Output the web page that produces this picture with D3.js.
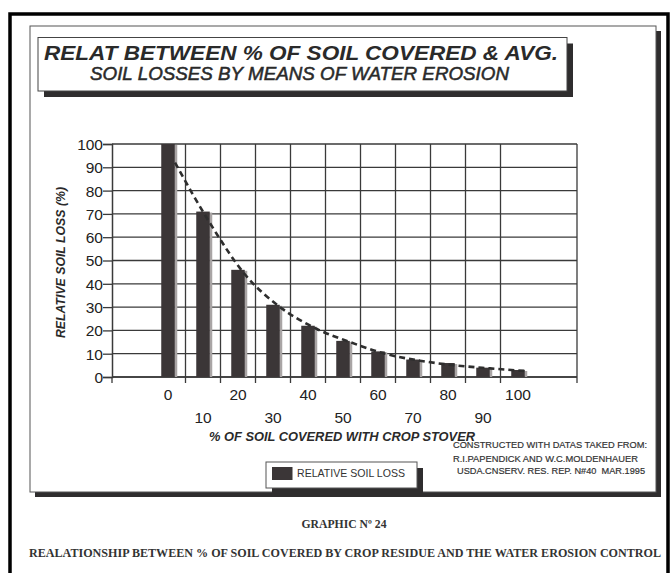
<!DOCTYPE html>
<html>
<head>
<meta charset="utf-8">
<script src="https://cdn.jsdelivr.net/npm/d3@7/dist/d3.min.js"></script>
<style>
  html, body { margin: 0; padding: 0; background: #fff; }
  svg { display: block; font-family: "Liberation Sans", Arial, Helvetica, sans-serif; }
</style>
</head>
<body>
<svg id="chart" width="671" height="573"></svg>
<script>
// ---- data ----
const categories = ["0", "10", "20", "30", "40", "50", "60", "70", "80", "90", "100"];
const soilLoss   = [100, 71, 46, 31, 22, 15.5, 11, 7.5, 6, 4, 3];
const trendLoss  = [92, 66, 44, 30, 21, 15, 10, 7, 5, 3.7, 2.6];
const yTicks     = [0, 10, 20, 30, 40, 50, 60, 70, 80, 90, 100];
const titleLines = ["RELAT BETWEEN % OF SOIL COVERED & AVG.", "SOIL LOSSES BY MEANS OF WATER EROSION"];
const sourceLines = ["CONSTRUCTED WITH DATAS TAKED FROM:", "R.I.PAPENDICK AND W.C.MOLDENHAUER", "USDA.CNSERV. RES. REP. N#40\u00A0 MAR.1995"];
const legendLabel = "RELATIVE SOIL LOSS";
const xTitle = "% OF SOIL COVERED WITH CROP STOVER";
const yTitle = "RELATIVE SOIL LOSS (%)";
const graphicLabel = "GRAPHIC Nº 24";
const caption = "REALATIONSHIP BETWEEN % OF SOIL COVERED BY CROP RESIDUE AND THE WATER EROSION CONTROL";

const svg = d3.select("#chart");
const dark = "#3b3637";
const gridCol = "#3a3a3a";
const serif = "'Liberation Serif', 'Times New Roman', Times, serif";

// outer black frame
svg.append("rect").attr("x", 10).attr("y", 14).attr("width", 658).attr("height", 620)
  .attr("fill", "none").attr("stroke", "#000").attr("stroke-width", 3.5);

// panel with shadow
svg.append("rect").attr("x", 35).attr("y", 31).attr("width", 626).attr("height", 466).attr("fill", "#2f2d2e");
svg.append("rect").attr("x", 30).attr("y", 26).attr("width", 626).attr("height", 466)
  .attr("fill", "#fff").attr("stroke", "#555").attr("stroke-width", 1);

// title box with shadow
svg.append("rect").attr("x", 44).attr("y", 43.5).attr("width", 529).attr("height", 53.5).attr("fill", "#2f2d2e");
svg.append("rect").attr("x", 38).attr("y", 37.5).attr("width", 529).attr("height", 53.5)
  .attr("fill", "#fff").attr("stroke", "#444").attr("stroke-width", 1);
svg.append("text").attr("x", 44).attr("y", 60).text(titleLines[0])
  .attr("font-size", 21).attr("font-weight", "bold").attr("font-style", "italic").attr("fill", "#2a2a2a")
  .attr("textLength", 514).attr("lengthAdjust", "spacingAndGlyphs");
svg.append("text").attr("x", 90).attr("y", 80).text(titleLines[1])
  .attr("font-size", 17.5).attr("font-style", "italic").attr("fill", "#2a2a2a")
  .attr("stroke", "#2a2a2a").attr("stroke-width", 0.5)
  .attr("textLength", 419).attr("lengthAdjust", "spacingAndGlyphs");

// ---- plot ----
const plotL = 112, plotR = 577, plotT = 144, plotB = 377;
const x = d3.scaleBand().domain(categories).range([150.5, 535.5]).padding(0);
const y = d3.scaleLinear().domain([0, 100]).range([plotB, plotT]);

const g = svg.append("g");

// horizontal gridlines
g.selectAll(".hgrid").data(yTicks).join("line").attr("class", "hgrid")
  .attr("x1", plotL).attr("x2", plotR).attr("y1", d => y(d)).attr("y2", d => y(d))
  .attr("stroke", gridCol).attr("stroke-width", 1.3);

// vertical gridlines at category boundaries
const boundaries = categories.slice(1).map(c => x(c));
g.selectAll(".vgrid").data(boundaries).join("line").attr("class", "vgrid")
  .attr("x1", d => d).attr("x2", d => d).attr("y1", plotT).attr("y2", plotB)
  .attr("stroke", gridCol).attr("stroke-width", 1.3);
// right border
g.append("line").attr("x1", plotR).attr("x2", plotR).attr("y1", plotT).attr("y2", plotB)
  .attr("stroke", gridCol).attr("stroke-width", 1.3);

// x tick marks below axis
g.selectAll(".xtick").data([plotL, ...boundaries, plotR]).join("line").attr("class", "xtick")
  .attr("x1", d => d).attr("x2", d => d).attr("y1", plotB).attr("y2", plotB + 6)
  .attr("stroke", gridCol).attr("stroke-width", 1.3);

// y axis
const yAxis = d3.axisLeft(y).tickValues(yTicks).tickSize(9).tickPadding(0).tickFormat(d3.format("d"));
const ya = svg.append("g").attr("transform", `translate(${plotL},0)`).call(yAxis);
ya.attr("font-family", null).attr("font-size", null);
ya.select(".domain").attr("stroke", gridCol).attr("stroke-width", 1.5);
ya.selectAll(".tick line").attr("stroke", gridCol).attr("stroke-width", 1.3);
ya.selectAll(".tick text").attr("font-size", 15.5).attr("fill", "#222").attr("dy", "0.35em");

// x axis baseline
g.append("line").attr("x1", plotL).attr("x2", plotR).attr("y1", plotB).attr("y2", plotB)
  .attr("stroke", gridCol).attr("stroke-width", 1.5);

// bars
const barW = 13.5;
const bars = svg.append("g");
bars.selectAll(".barShade").data(categories).join("rect").attr("class", "barShade")
  .attr("x", c => x(c) + x.bandwidth() / 2 + barW / 2 - 0.5)
  .attr("y", (c, i) => y(soilLoss[i]) + 1)
  .attr("width", 3).attr("height", (c, i) => plotB - y(soilLoss[i]) - 1)
  .attr("fill", "#a9a5a5");
bars.selectAll(".bar").data(categories).join("rect").attr("class", "bar")
  .attr("x", c => x(c) + x.bandwidth() / 2 - barW / 2)
  .attr("y", (c, i) => y(soilLoss[i]))
  .attr("width", barW).attr("height", (c, i) => plotB - y(soilLoss[i]))
  .attr("fill", dark);

// dashed trend line
const line = d3.line()
  .x((d, i) => x(categories[i]) + x.bandwidth() / 2 + 7)
  .y(d => y(d))
  .curve(d3.curveMonotoneX);
svg.append("path").datum(trendLoss).attr("d", line)
  .attr("fill", "none").attr("stroke", "#2e2e2e").attr("stroke-width", 2.6)
  .attr("stroke-dasharray", "6,4");

// staggered x labels
svg.selectAll(".xlab").data(categories).join("text").attr("class", "xlab")
  .attr("x", c => x(c) + x.bandwidth() / 2)
  .attr("y", (c, i) => i % 2 === 0 ? 400 : 422.5)
  .attr("text-anchor", "middle").attr("font-size", 15.5).attr("fill", "#222")
  .text(c => c);

// axis titles
svg.append("text").attr("x", 342).attr("y", 441).attr("text-anchor", "middle")
  .attr("font-size", 12.5).attr("font-weight", "bold").attr("font-style", "italic").attr("fill", "#2a2a2a")
  .attr("textLength", 266).attr("lengthAdjust", "spacingAndGlyphs").text(xTitle);
svg.append("text").attr("transform", "translate(65,262.5) rotate(-90)").attr("text-anchor", "middle")
  .attr("font-size", 12).attr("font-weight", "bold").attr("font-style", "italic").attr("fill", "#2a2a2a")
  .attr("textLength", 151).attr("lengthAdjust", "spacingAndGlyphs").text(yTitle);

// source text
const srcY = [448, 461.5, 474];
const srcX = [453, 453, 457];
const srcW = [194, 185, 188];
svg.selectAll(".src").data(sourceLines).join("text").attr("class", "src")
  .attr("x", (d, i) => srcX[i]).attr("y", (d, i) => srcY[i])
  .attr("font-size", 9.5).attr("fill", "#333")
  .attr("stroke", "#333").attr("stroke-width", 0.2)
  .attr("textLength", (d, i) => srcW[i]).attr("lengthAdjust", "spacingAndGlyphs")
  .text(d => d);

// legend
svg.append("rect").attr("x", 272).attr("y", 468).attr("width", 151).attr("height", 26).attr("fill", "#2f2d2e");
svg.append("rect").attr("x", 266).attr("y", 462).attr("width", 151).attr("height", 26)
  .attr("fill", "#fff").attr("stroke", "#555").attr("stroke-width", 1);
svg.append("rect").attr("x", 272).attr("y", 467).attr("width", 20.5).attr("height", 13).attr("fill", dark);
svg.append("text").attr("x", 297).attr("y", 476.5).attr("font-size", 11.5).attr("fill", "#333")
  .attr("textLength", 108).attr("lengthAdjust", "spacingAndGlyphs").text(legendLabel);

// captions
svg.append("text").attr("x", 344).attr("y", 528).attr("text-anchor", "middle")
  .attr("font-family", serif).attr("font-weight", "bold")
  .attr("font-size", 12).attr("fill", "#333")
  .attr("textLength", 85).attr("lengthAdjust", "spacingAndGlyphs").text(graphicLabel);
svg.append("text").attr("x", 29).attr("y", 556.5)
  .attr("font-family", serif).attr("font-weight", "bold")
  .attr("font-size", 12).attr("fill", "#333")
  .attr("textLength", 632).attr("lengthAdjust", "spacingAndGlyphs").text(caption);
</script>
</body>
</html>
